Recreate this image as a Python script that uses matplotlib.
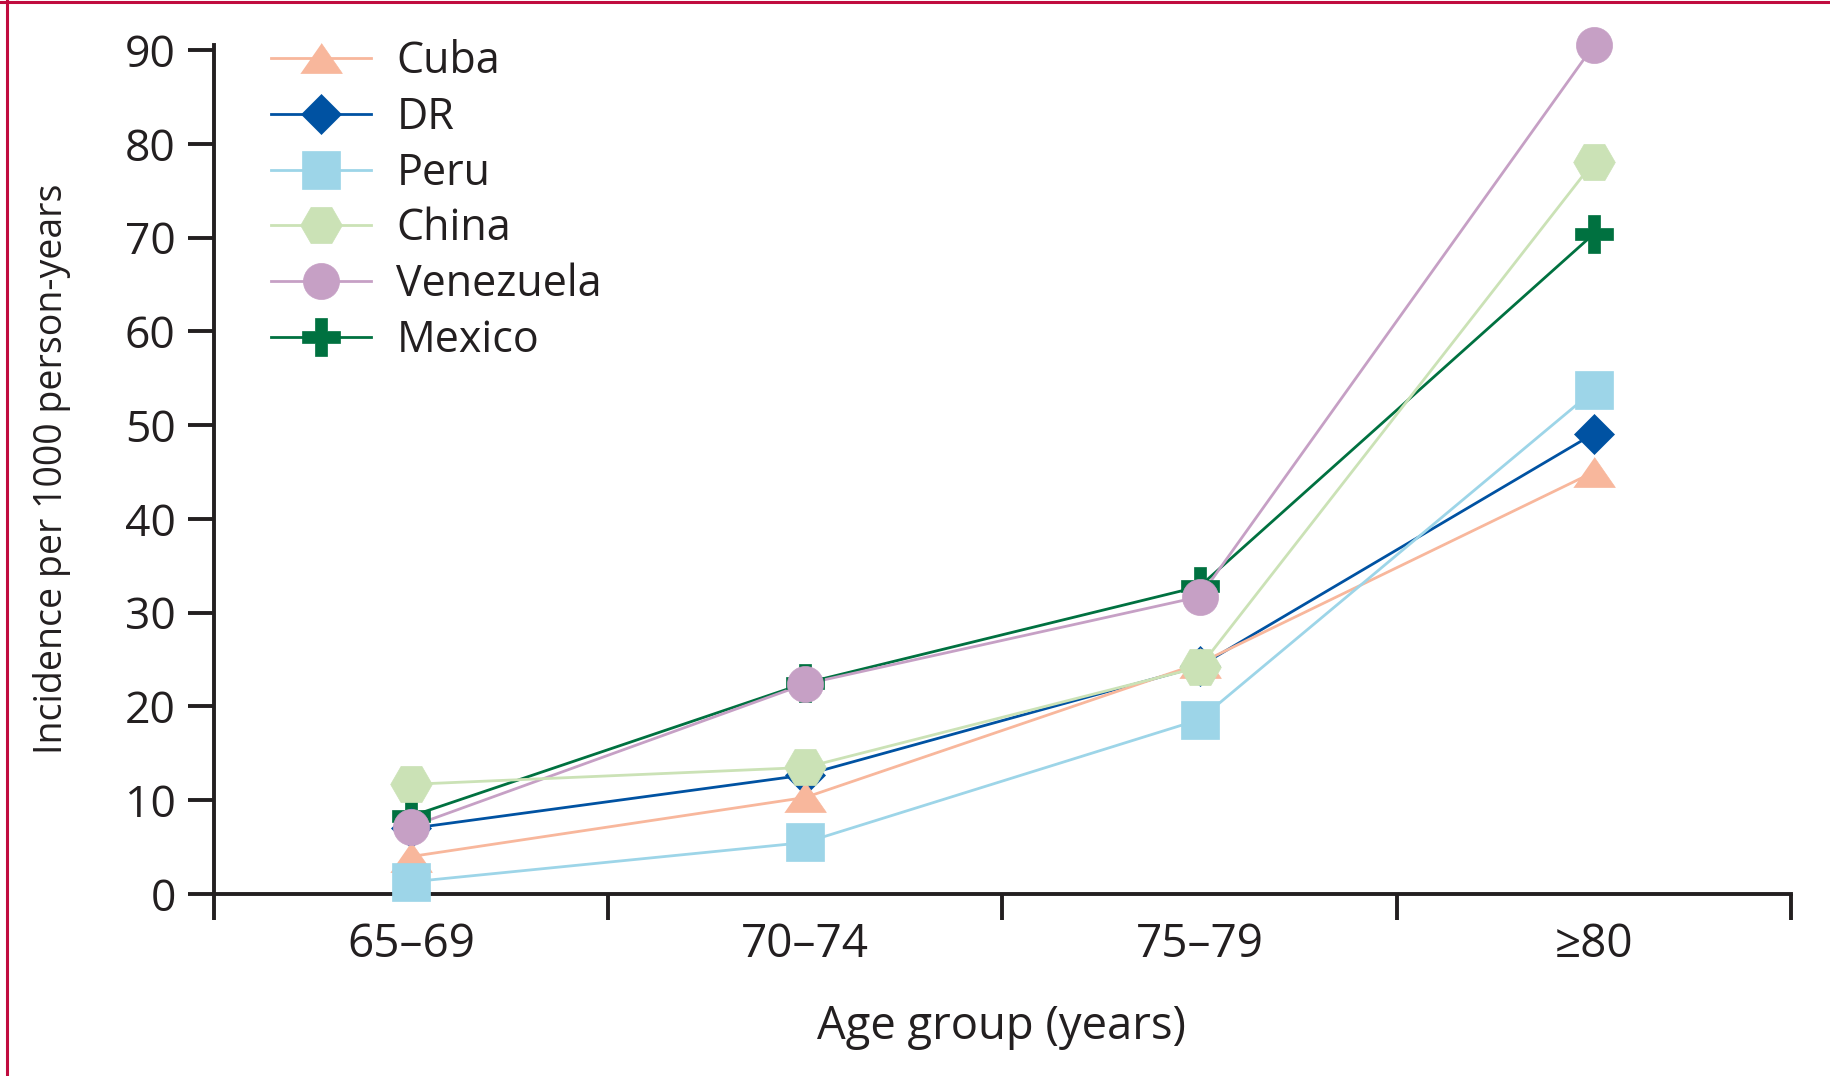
import matplotlib
matplotlib.use("Agg")
from matplotlib import pyplot as plt
from matplotlib.lines import Line2D

age_groups = ["65\u201369", "70\u201374", "75\u201379", "\u226580"]

cuba = [4.0, 10.3, 24.6, 45.0]
dr = [7.0, 12.7, 24.3, 49.1]
peru = [1.3, 5.5, 18.6, 53.7]
china = [11.7, 13.5, 24.2, 78.1]
venezuela = [7.2, 22.4, 31.7, 90.5]
mexico = [8.3, 22.5, 32.8, 70.4]

TEXT = "#231F20"
FONT = ["Open Sans", "DejaVu Sans"]
plt.rcParams["font.family"] = FONT

tri = [(-1, -0.72), (1, -0.72), (0, 0.72)]
# name, values, colour, marker, size (pt)
series = [
    ("Mexico", mexico, "#007140", "P", 27),
    ("DR", dr, "#0052A2", "D", 20),
    ("Cuba", cuba, "#F8B79C", tri, 30),
    ("Peru", peru, "#9DD5E8", "s", 28),
    ("Venezuela", venezuela, "#C6A0C5", "o", 26),
    ("China", china, "#CBE2B6", "H", 30),
]
legend_order = ["Cuba", "DR", "Peru", "China", "Venezuela", "Mexico"]

fig = plt.figure(figsize=(18.3, 10.76), dpi=100)
ax = fig.add_axes([0.1169, 0.1691, 0.8618, 0.7888])

x = [i + 0.5 for i in range(len(age_groups))]
handles = {}
for i, (name, vals, col, mk, ms) in enumerate(series):
    ax.plot(x, vals, color=col, lw=2.0, zorder=2, clip_on=False)
    ax.plot(x, vals, linestyle="none", marker=mk, ms=ms, color=col,
            mec=col, mew=0.5, zorder=3 + i, clip_on=False)
    handles[name] = Line2D([], [], color=col, lw=2.0, marker=mk, ms=ms,
                           mec=col, mew=0.5)

ax.set_xlim(0, 4)
ax.set_ylim(0, 90.5)
ax.set_xticks(range(5))
ax.set_xticks(x, minor=True)
ax.set_xticklabels([])
ax.set_xticklabels(age_groups, minor=True)
ax.set_yticks(range(0, 91, 10))

for s in ["top", "right"]:
    ax.spines[s].set_visible(False)
for s in ["left", "bottom"]:
    ax.spines[s].set_linewidth(2.8)
    ax.spines[s].set_color(TEXT)

ax.tick_params(axis="both", which="major", direction="out", length=19,
               width=2.8, color=TEXT, labelcolor=TEXT, labelsize=32)
ax.tick_params(axis="y", pad=8.5)
ax.tick_params(axis="x", which="minor", length=0, pad=20, labelsize=33,
               labelcolor=TEXT)

fig.text(0.5475, 0.0455, "Age group (years)", ha="center", va="center",
         fontsize=32.7, color=TEXT)
fig.text(0.0284, 0.564, "Incidence per 1000 person-years", ha="center",
         va="center", rotation=90, fontsize=27, color=TEXT)

ax.legend([handles[n] for n in legend_order], legend_order,
          loc="upper left", bbox_to_anchor=(0.036, 1.0066), frameon=False,
          fontsize=31, labelcolor=TEXT, numpoints=1, handlelength=2.32,
          handletextpad=0.6, labelspacing=0.26, borderpad=0, borderaxespad=0)

# red frame of the figure panel
red = "#C00C3F"
fig.add_artist(Line2D([7 / 1830, 7 / 1830], [0, 1], color=red, lw=2.2))
fig.add_artist(Line2D([0, 1], [1 - 1.5 / 1076, 1 - 1.5 / 1076], color=red, lw=2.2))

fig.savefig("out.png", dpi=100, facecolor="white")
